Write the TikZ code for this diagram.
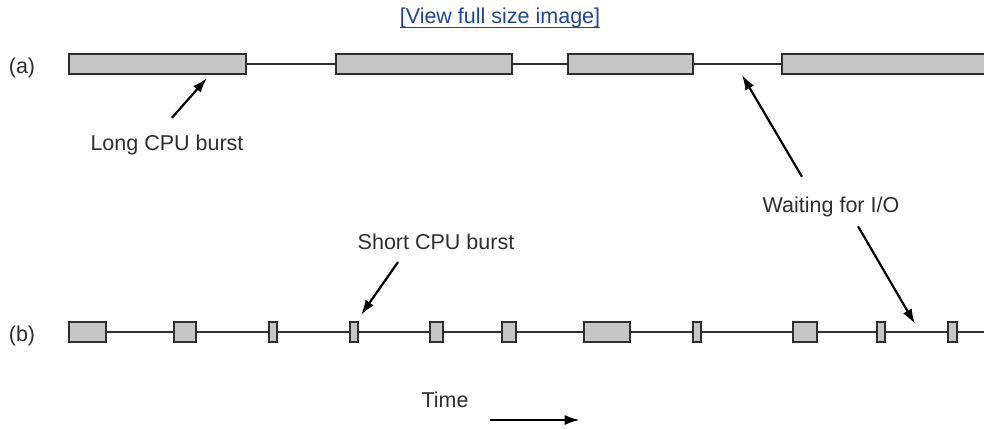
\documentclass[tikz,border=0pt]{standalone}
\usepackage{fontspec}
\setmainfont{Liberation Sans}
\usetikzlibrary{arrows.meta,calc}
\definecolor{boxfill}{HTML}{C6C6C6}
\definecolor{ink}{HTML}{2E2E2E}
\definecolor{linkblue}{HTML}{1F44A0}
\begin{document}
\begin{tikzpicture}[x=1pt,y=-1pt,
  burst/.style={draw=ink, fill=boxfill, line width=2.2pt, minimum height=20pt, inner sep=0pt, anchor=west},
  tline/.style={draw=ink, line width=1.8pt},
  arr/.style={draw=black, line width=2.2pt, -{Latex[length=15pt,width=10pt]}},
  lbl/.style={font=\fontsize{21.5}{26}\selectfont, text=ink, inner sep=0pt}]
\useasboundingbox (0,0) rectangle (984,428);
\clip (0,0) rectangle (984,428);
% link
\node[lbl, text=linkblue, anchor=base] (link) at (500,24) {[View full size image]};
\draw[linkblue, line width=1.1pt] ($(link.base west)+(0,3.5)$) -- ($(link.base east)+(0,3.5)$);
% row labels
\node[lbl] (la) at (22,68) {(a)};
\node[lbl] (lb) at (22,336) {(b)};
% row (a)
\foreach \n/\l/\r in {a1/67/246, a2/334/512, a3/566/693, a4/780/1000}
  \node[burst, minimum width={\r-\l-2}] (\n) at (\l+1,64) {};
\draw[tline] (a1.east) -- (a2.west);
\draw[tline] (a2.east) -- (a3.west);
\draw[tline] (a3.east) -- (a4.west);
% row (b)
\foreach \n/\l/\r in {b1/67/106, b2/172/196, b3/267/277, b4/348/358, b5/428/443, b6/500/516, b7/582/630, b8/691/701, b9/791/817, b10/875/885, b11/946/957}
  \node[burst, minimum width={\r-\l-2}] (\n) at (\l+1,332) {};
\coordinate (bend) at (990,332);
\draw[tline] (b1.east) -- (b2.west);
\draw[tline] (b2.east) -- (b3.west);
\draw[tline] (b3.east) -- (b4.west);
\draw[tline] (b4.east) -- (b5.west);
\draw[tline] (b5.east) -- (b6.west);
\draw[tline] (b6.east) -- (b7.west);
\draw[tline] (b7.east) -- (b8.west);
\draw[tline] (b8.east) -- (b9.west);
\draw[tline] (b9.east) -- (b10.west);
\draw[tline] (b10.east) -- (b11.west);
\draw[tline] (b11.east) -- (bend);
% labels and arrows
\node[lbl] (lcb) at (167,145) {Long CPU burst};
\coordinate (lcbtip) at (207,78);
\draw[arr] ($(lcb.north)+(5,-17)$) -- (lcbtip);
\node[lbl] (wio) at (831,207) {Waiting for I/O};
\coordinate (wtipa) at (742,75);
\coordinate (wtipb) at (915,324);
\draw[arr] ($(wio.north)+(-29,-20)$) -- (wtipa);
\draw[arr] ($(wio.south)+(27,9)$) -- (wtipb);
\node[lbl] (scb) at (436,242) {Short CPU burst};
\coordinate (scbtip) at (361,315);
\draw[arr] ($(scb.south)+(-38,12)$) -- (scbtip);
\node[lbl] (time) at (445,400) {Time};
\draw[arr] ($(time.east)+(21,20)$) -- ($(time.east)+(111,20)$);
\end{tikzpicture}
\end{document}
